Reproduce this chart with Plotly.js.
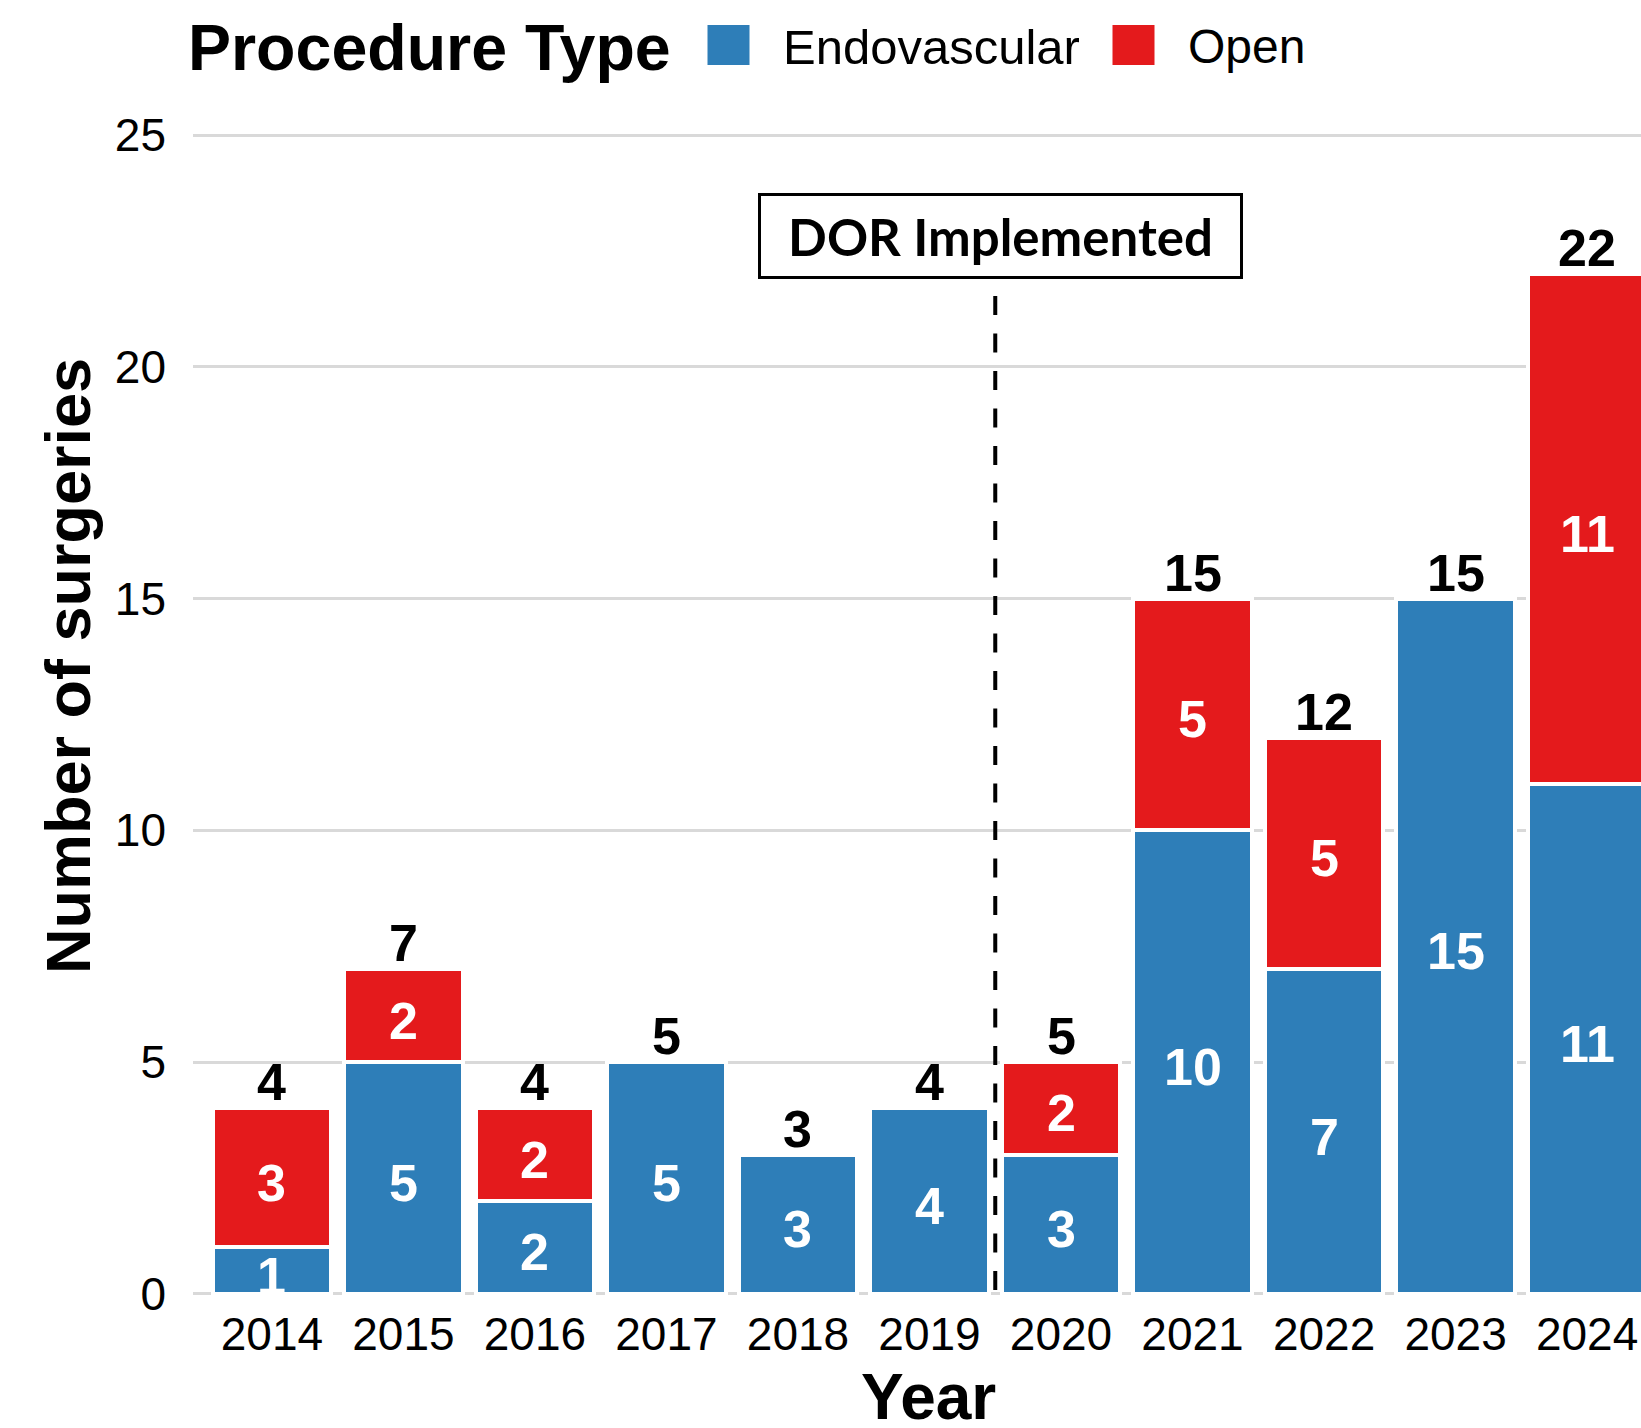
<!DOCTYPE html>
<html><head><meta charset="utf-8">
<script src="https://cdn.plot.ly/plotly-3.0.1.min.js"></script>
<style>
html,body{margin:0;padding:0;overflow:hidden;background:#fff;width:1641px;height:1428px}
#chart{width:1700px;height:1428px}
</style>
</head><body><div id="chart"></div>
<script>
// ---- data ----
const years = [2014, 2015, 2016, 2017, 2018, 2019, 2020, 2021, 2022, 2023, 2024];
const yearLabels = ["2014","2015","2016","2017","2018","2019","2020","2021","2022","2023","2024"];
const endovascular = [1, 5, 2, 5, 3, 4, 3, 10, 7, 15, 11];
const openSurg = [3, 2, 2, 0, 0, 0, 2, 5, 5, 0, 11];
const yTickVals = [0, 5, 10, 15, 20, 25];
const seriesNames = ["Endovascular", "Open"];
const legendTitle = "Procedure Type";
const dorYear = 2019.5;
const dorLabel = "DOR Implemented";

// ---- derived ----
const totals = endovascular.map((v, i) => v + openSurg[i]);
const openBars = openSurg.map(v => v > 0 ? v : null);

// ---- styles ----
const BLUE = "#2E7EB8", RED = "#E41A1C";
const FONT = "Liberation Sans, Arial, Helvetica, sans-serif";
const W = 1700, H = 1428;
const M = {l: 193, r: 34, t: 112, b: 125};
const pw = W - M.l - M.r, ph = H - M.t - M.b;
const px = x => (x - M.l) / pw;
const py = y => (H - M.b - y) / ph;

const traces = [
  {type: "bar", name: seriesNames[0], x: years, y: endovascular, width: 0.9,
   marker: {color: BLUE, line: {color: "#ffffff", width: 4}}, hoverinfo: "x+y"},
  {type: "bar", name: seriesNames[1], x: years, y: openBars, width: 0.9,
   marker: {color: RED, line: {color: "#ffffff", width: 4}}, hoverinfo: "x+y"}
];

const inFont = {family: FONT, size: 52, color: "#ffffff", weight: "bold"};
const annotations = [];
// segment labels (centered in each stacked segment)
years.forEach((yr, i) => {
  annotations.push({x: yr, y: endovascular[i] / 2, xref: "x", yref: "y", text: String(endovascular[i]),
    showarrow: false, xanchor: "center", yanchor: "middle", yshift: -5, font: inFont});
  if (openSurg[i] > 0) {
    annotations.push({x: yr, y: endovascular[i] + openSurg[i] / 2, xref: "x", yref: "y",
      text: String(openSurg[i]), showarrow: false, xanchor: "center", yanchor: "middle",
      yshift: -5, font: inFont});
  }
});
// totals above bars
totals.forEach((t, i) => annotations.push({
  x: years[i], y: t, xref: "x", yref: "y", text: String(t), showarrow: false,
  yanchor: "bottom", yshift: -5,
  font: {family: FONT, size: 52, color: "#000000", weight: "bold"}
}));

annotations.push({
  x: dorYear, y: 22.82, xref: "x", yref: "y", xshift: 5, text: dorLabel, showarrow: false,
  xanchor: "center", yanchor: "middle", bgcolor: "#ffffff", bordercolor: "#000000",
  borderwidth: 3, borderpad: 0, width: 479, height: 80,
  font: {family: "Lato, Open Sans, sans-serif", size: 51, color: "#000000", weight: "bold"}
});

// legend (drawn manually)
annotations.push({xref: "paper", yref: "paper", x: px(186), y: py(48), xanchor: "left", yanchor: "middle",
  text: legendTitle, showarrow: false, font: {family: FONT, size: 64.5, color: "#000000", weight: "bold"}});
annotations.push({xref: "paper", yref: "paper", x: px(781), y: py(47), xanchor: "left", yanchor: "middle",
  text: seriesNames[0], showarrow: false, font: {family: FONT, size: 49, color: "#000000"}});
annotations.push({xref: "paper", yref: "paper", x: px(1186), y: py(47), xanchor: "left", yanchor: "middle",
  text: seriesNames[1], showarrow: false, font: {family: FONT, size: 48, color: "#000000"}});

// axis titles
annotations.push({xref: "paper", yref: "paper", x: px(928), y: py(1428), xanchor: "center", yanchor: "bottom",
  yshift: -7, text: "Year", showarrow: false, font: {family: FONT, size: 64, color: "#000000", weight: "bold"}});
annotations.push({xref: "paper", yref: "paper", x: px(68), y: py(666), xanchor: "center", yanchor: "middle",
  textangle: -90, text: "Number of surgeries", showarrow: false,
  font: {family: FONT, size: 63, color: "#000000", weight: "bold"}});

const shapes = [
  {type: "line", xref: "x", yref: "y", x0: dorYear, x1: dorYear, y0: 21.53, y1: -0.25,
   line: {color: "#000000", width: 4, dash: "19px,18.5px"}, layer: "above"},
  {type: "rect", xref: "paper", yref: "paper", x0: px(707.5), x1: px(749.5), y0: py(65), y1: py(25),
   fillcolor: BLUE, line: {width: 0}},
  {type: "rect", xref: "paper", yref: "paper", x0: px(1112.5), x1: px(1154.5), y0: py(65), y1: py(25),
   fillcolor: RED, line: {width: 0}}
];

const layout = {
  width: W, height: H, margin: M, barmode: "stack", bargap: 0.1,
  paper_bgcolor: "#ffffff", plot_bgcolor: "#ffffff", showlegend: false,
  font: {family: FONT, color: "#000000"},
  xaxis: {type: "linear", range: [2013.4, 2024.6], tickvals: years, ticktext: yearLabels,
    showgrid: false, zeroline: false, showline: false, ticks: "",
    tickfont: {family: FONT, size: 46, color: "#000000"}, ticklabelstandoff: 0, fixedrange: true},
  yaxis: {range: [-0.2, 25.5], tickvals: yTickVals, showgrid: true, gridcolor: "#D9D9D9", gridwidth: 3,
    zeroline: false, showline: false, ticks: "",
    tickfont: {family: FONT, size: 46, color: "#000000"}, ticklabelstandoff: 26, fixedrange: true},
  annotations: annotations, shapes: shapes
};

Plotly.newPlot("chart", traces, layout, {displayModeBar: false, staticPlot: true});
</script>
</body></html>
